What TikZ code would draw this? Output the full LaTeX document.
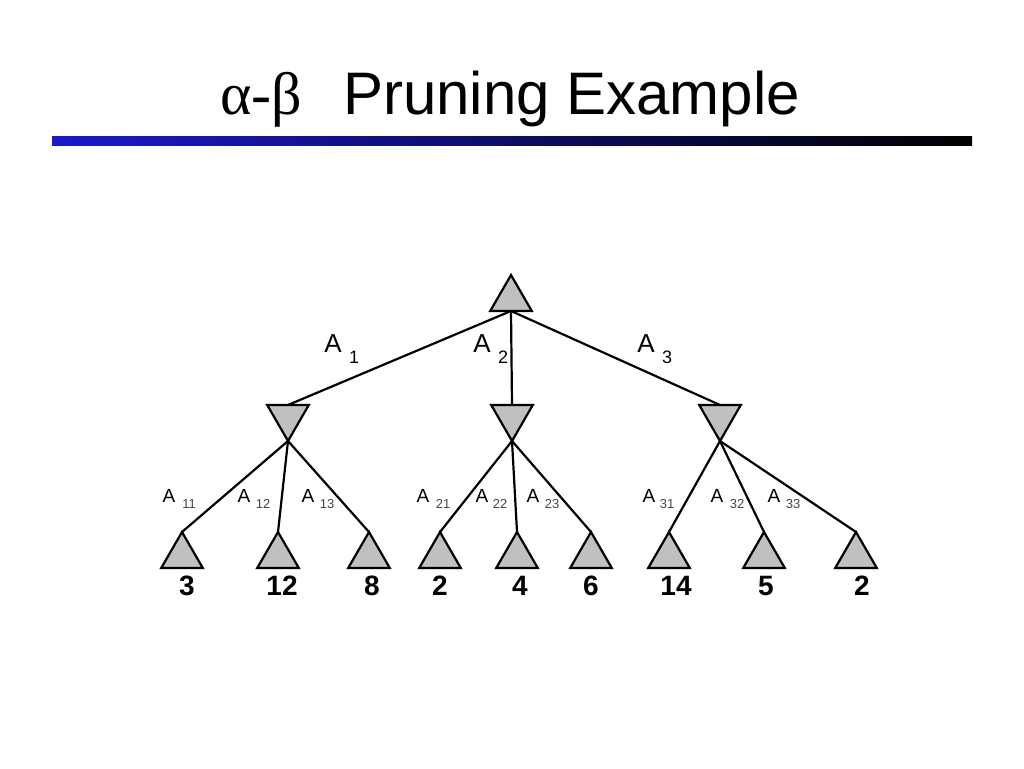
\documentclass[tikz,border=0pt]{standalone}
\usepackage{fontspec}
\setmainfont{Liberation Sans}
\newfontfamily\serifgreek{Liberation Serif}
\usetikzlibrary{shapes.geometric}
\definecolor{trifill}{RGB}{192,192,192}
\definecolor{barblue}{RGB}{25,25,205}
\definecolor{subgray}{RGB}{70,70,70}
\begin{document}
\begin{tikzpicture}[x=1pt,y=-1pt,
  tri/.style={shape=regular polygon, regular polygon sides=3, minimum size=48pt,
    inner sep=0pt, outer sep=0pt, draw=black, line width=2.2pt, fill=trifill},
  maxtri/.style={tri},
  mintri/.style={tri, shape border rotate=180},
  edge/.style={line width=2.2pt, draw=black},
  lblA/.style={inner sep=0pt, anchor=base, font=\fontsize{26}{26}\selectfont},
  lblS/.style={inner sep=0pt, anchor=base, font=\fontsize{18}{18}\selectfont},
  lblAA/.style={inner sep=0pt, anchor=base, font=\fontsize{19}{19}\selectfont},
  lblSS/.style={inner sep=0pt, anchor=base, text=subgray, font=\fontsize{13}{13}\selectfont},
  val/.style={inner sep=0pt, anchor=base, font=\fontsize{28}{28}\selectfont\bfseries}]
\useasboundingbox (0,0) rectangle (1024,768);
% title
\node[anchor=base, inner sep=0pt] (tgreek) at (261,114) {\fontsize{60}{60}\selectfont\serifgreek α-β};
\node[anchor=base, inner sep=0pt] (ttext) at (571.5,114) {\fontsize{60}{60}\selectfont Pruning Example};
\shade[left color=barblue, right color=black] (52,136) rectangle (972,145);
% root
\node[maxtri] (root) at (511,299) {};
% min nodes
\node[mintri] (m1) at (288,417) {};
\node[mintri] (m2) at (512,417) {};
\node[mintri] (m3) at (720,417) {};
% leaves
\foreach \n/\x in {l11/182,l12/278,l13/369,l21/440,l22/517,l23/591,l31/669,l32/764,l33/856}
  \node[maxtri] (\n) at (\x,556) {};
% edges
\draw[edge] (root.270) -- (m1.90);
\draw[edge] (root.270) -- (m2.90);
\draw[edge] (root.270) -- (m3.90);
\draw[edge] (m1.270) -- (l11.90);
\draw[edge] (m1.270) -- (l12.90);
\draw[edge] (m1.270) -- (l13.90);
\draw[edge] (m2.270) -- (l21.90);
\draw[edge] (m2.270) -- (l22.90);
\draw[edge] (m2.270) -- (l23.90);
\draw[edge] (m3.270) -- (l31.90);
\draw[edge] (m3.270) -- (l32.90);
\draw[edge] (m3.270) -- (l33.90);
% level-1 labels
\node[lblA] (a1) at (333,352) {A};
\node[lblS] (a1s) at (354,363.5) {1};
\node[lblA] (a2) at (482,352) {A};
\node[lblS] (a2s) at (503,363.5) {2};
\node[lblA] (a3) at (646,352) {A};
\node[lblS] (a3s) at (667,363.5) {3};
% level-2 labels
\foreach \n/\x/\s/\t in {b11/169/189/11,b12/244/263/12,b13/308/327/13,
                          b21/423/443/21,b22/482/500/22,b23/533/552/23,
                          b31/649/667/31,b32/717/737/32,b33/774/793/33}{
  \node[lblAA] (\n) at (\x,502) {A};
  \node[lblSS] (\n s) at (\s,508.5) {\t};
}
% values
\foreach \n/\x/\v in {v11/187/3,v12/282/12,v13/372/8,v21/440/2,v22/520/4,v23/591/6,v31/676/14,v32/766/5,v33/862/2}
  \node[val] (\n) at (\x,595) {\v};
\end{tikzpicture}
\end{document}
